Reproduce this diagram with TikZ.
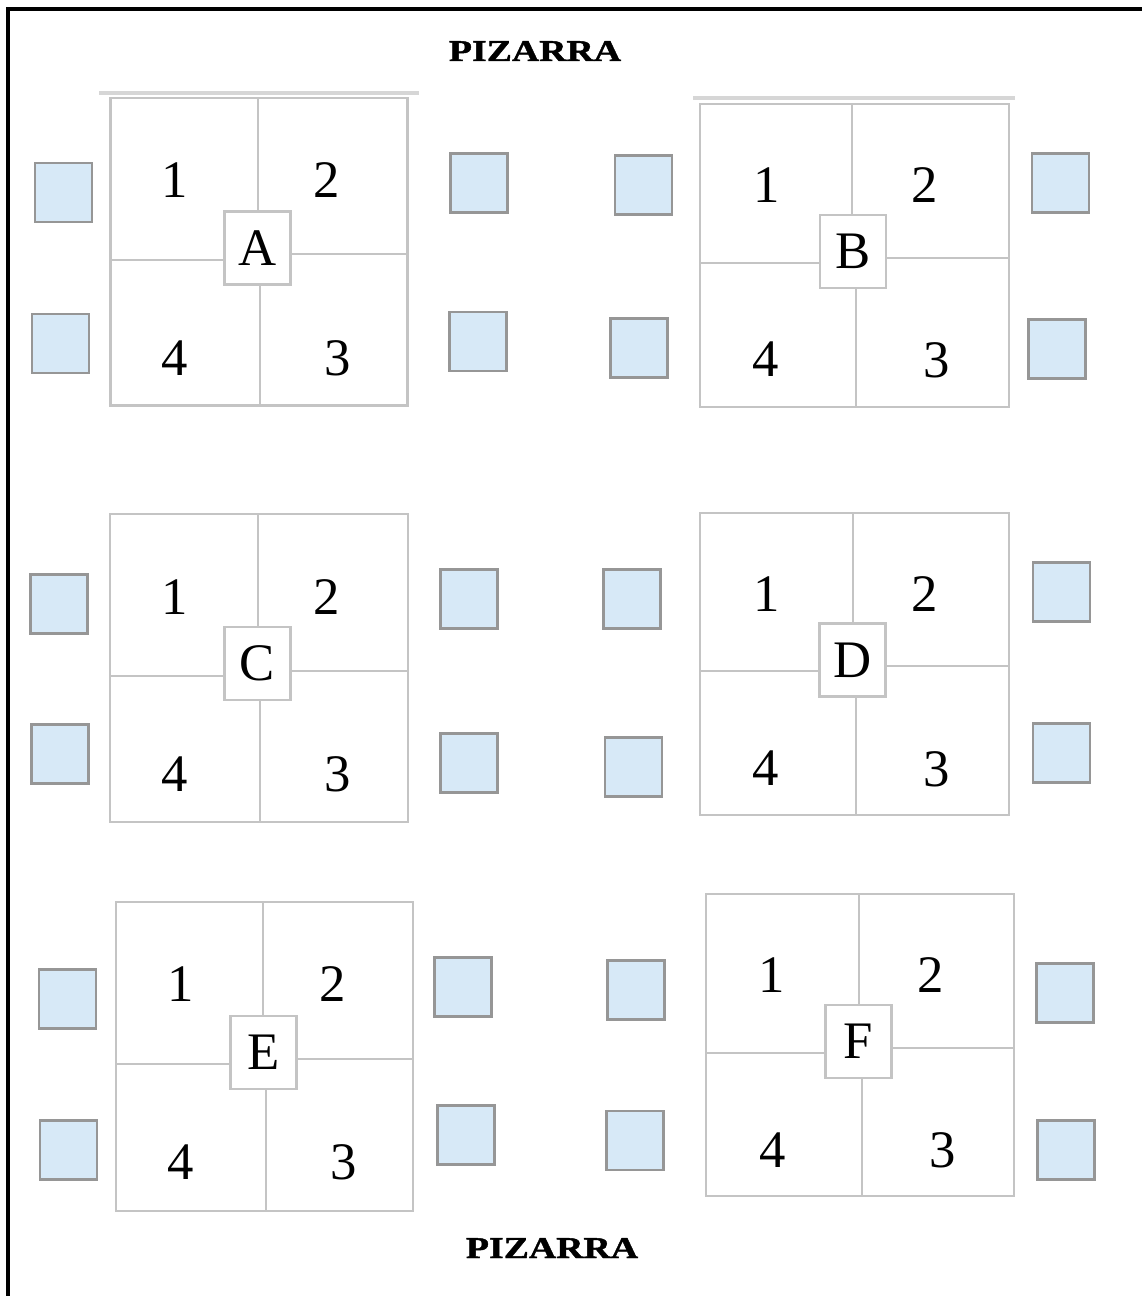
\documentclass[tikz,border=0pt]{standalone}
\usepackage{fontspec}
\setmainfont{Liberation Serif}
\newfontfamily\pizfont{Liberation Serif}[FakeStretch=1.25, BoldFeatures={FakeBold=1.5}]
\usetikzlibrary{positioning}
\definecolor{gridgray}{RGB}{196,196,196}
\definecolor{edgegray}{RGB}{214,214,214}
\definecolor{seatgray}{RGB}{150,150,150}
\definecolor{seatblue}{RGB}{215,233,247}

\begin{document}
\begin{tikzpicture}[x=0.01cm, y=-0.01cm,
    tableline/.style={draw=gridgray, line width=0.6pt},
    letterbox/.style={draw=gridgray, line width=0.6pt, fill=white, minimum width=0.66cm,
                      minimum height=0.73cm, inner sep=0pt, font=\fontsize{15}{18}\selectfont},
    numlabel/.style={inner sep=0pt, font=\fontsize{15}{18}\selectfont},
    seat/.style={draw=seatgray, line width=0.6pt, fill=seatblue, minimum width=0.57cm,
                 minimum height=0.59cm, inner sep=0pt},
    board/.style={inner sep=0pt, font=\pizfont\bfseries\fontsize{8.6}{10}\selectfont}
]
\useasboundingbox (0,0) rectangle (1142,1296);
\draw[line width=1.2pt] (8,1296) -- (8,9) -- (1142,9);

\node[board] (top) at (535,51)    {PIZARRA};
\node[board] (bot) at (552,1248)  {PIZARRA};

\draw[edgegray, line width=0.9pt] (99,93) -- (419,93);
\draw[edgegray, line width=0.9pt] (693,98) -- (1015,98);

\node[letterbox] (A) at (257.5,248) {A};
\draw[tableline] (110.5,98) rectangle (407.5,405.5);
\draw[tableline] (258,98) -- (258,98 |- A.north);
\draw[tableline] (260,405.5) -- (260,405.5 |- A.south);
\draw[tableline] (110.5,260) -- (A.west |- 110.5,260);
\draw[tableline] (407.5,254) -- (A.east |- 407.5,254);
\node[numlabel] (a1) at (175,180.5) {1};
\node[numlabel] (a2) at (327,180.5) {2};
\node[numlabel] (a3) at (338,358)   {3};
\node[numlabel] (a4) at (175,358)   {4};
\node[seat] (aw1) at (63.5,192.5) {};
\node[seat] (aw2) at (60.5,343.5) {};
\node[seat] (ae1) at (479,183)    {};
\node[seat] (ae2) at (478,341.5)  {};

\node[letterbox] (B) at (853,251.5) {B};
\draw[tableline] (700,104) rectangle (1009,407);
\draw[tableline] (852,104) -- (852,104 |- B.north);
\draw[tableline] (856,407) -- (856,407 |- B.south);
\draw[tableline] (700,263) -- (B.west |- 700,263);
\draw[tableline] (1009,258) -- (B.east |- 1009,258);
\node[numlabel] (b1) at (767,185.5) {1};
\node[numlabel] (b2) at (925,185.5) {2};
\node[numlabel] (b3) at (937,360.5) {3};
\node[numlabel] (b4) at (766,359.5) {4};
\node[seat] (bw1) at (643.5,185)  {};
\node[seat] (bw2) at (639,348)    {};
\node[seat] (be1) at (1060.5,183) {};
\node[seat] (be2) at (1057,349)   {};

\node[letterbox] (C) at (257.5,663.5) {C};
\draw[tableline] (110,514) rectangle (408,822);
\draw[tableline] (258,514) -- (258,514 |- C.north);
\draw[tableline] (260,822) -- (260,822 |- C.south);
\draw[tableline] (110,676) -- (C.west |- 110,676);
\draw[tableline] (408,671) -- (C.east |- 408,671);
\node[numlabel] (c1) at (175,597)   {1};
\node[numlabel] (c2) at (327,597)   {2};
\node[numlabel] (c3) at (338,774.5) {3};
\node[numlabel] (c4) at (175,774)   {4};
\node[seat] (cw1) at (59,604)   {};
\node[seat] (cw2) at (60,754)   {};
\node[seat] (ce1) at (469,599)  {};
\node[seat] (ce2) at (469,763)  {};

\node[letterbox] (D) at (852.5,660) {D};
\draw[tableline] (700,513) rectangle (1009,815);
\draw[tableline] (853,513) -- (853,513 |- D.north);
\draw[tableline] (856,815) -- (856,815 |- D.south);
\draw[tableline] (700,671) -- (D.west |- 700,671);
\draw[tableline] (1009,666) -- (D.east |- 1009,666);
\node[numlabel] (d1) at (767,594.5) {1};
\node[numlabel] (d2) at (925,594.5) {2};
\node[numlabel] (d3) at (937,769.5) {3};
\node[numlabel] (d4) at (766,768.5) {4};
\node[seat] (dw1) at (632,599)    {};
\node[seat] (dw2) at (633.5,767)  {};
\node[seat] (de1) at (1061.5,592) {};
\node[seat] (de2) at (1061.5,753) {};

\node[letterbox] (E) at (263.5,1052.5) {E};
\draw[tableline] (116,902) rectangle (413,1211);
\draw[tableline] (263,902) -- (263,902 |- E.north);
\draw[tableline] (266,1211) -- (266,1211 |- E.south);
\draw[tableline] (116,1064) -- (E.west |- 116,1064);
\draw[tableline] (413,1059) -- (E.east |- 413,1059);
\node[numlabel] (e1) at (181,984.5) {1};
\node[numlabel] (e2) at (333,984.5) {2};
\node[numlabel] (e3) at (344,1162)  {3};
\node[numlabel] (e4) at (181,1162)  {4};
\node[seat] (ew1) at (67.5,999)  {};
\node[seat] (ew2) at (68.5,1150) {};
\node[seat] (ee1) at (463,987)   {};
\node[seat] (ee2) at (466,1135)  {};

\node[letterbox] (F) at (858.5,1041.5) {F};
\draw[tableline] (706,894) rectangle (1014,1196);
\draw[tableline] (859,894) -- (859,894 |- F.north);
\draw[tableline] (862,1196) -- (862,1196 |- F.south);
\draw[tableline] (706,1053) -- (F.west |- 706,1053);
\draw[tableline] (1014,1048) -- (F.east |- 1014,1048);
\node[numlabel] (f1) at (772,975.5)  {1};
\node[numlabel] (f2) at (931,975.5)  {2};
\node[numlabel] (f3) at (943,1150.5) {3};
\node[numlabel] (f4) at (773,1150)   {4};
\node[seat] (fw1) at (636,990)    {};
\node[seat] (fw2) at (635,1140.5) {};
\node[seat] (fe1) at (1065,993)   {};
\node[seat] (fe2) at (1066,1150)  {};
\end{tikzpicture}
\end{document}
